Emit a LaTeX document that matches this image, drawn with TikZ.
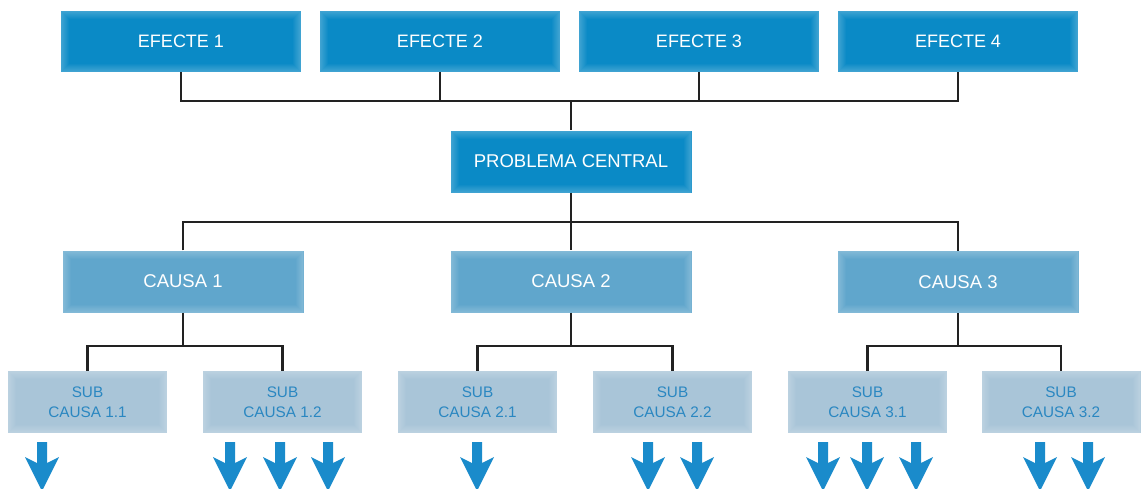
\documentclass[tikz,border=0pt]{standalone}
\usepackage{fontspec}
\setmainfont{Liberation Sans}
\usetikzlibrary{calc}

\definecolor{effblue}{HTML}{0A8AC6}
\definecolor{causeblue}{HTML}{60A6CC}
\definecolor{subfill}{HTML}{A9C5D8}
\definecolor{subtext}{HTML}{2A87C1}
\definecolor{arrowblue}{HTML}{1A8BCB}
\definecolor{linegray}{HTML}{222222}

\tikzset{
  % soft lighter rim fading inward
  softedge/.style={
    path picture={
      \foreach \i in {0,...,7}{
        \pgfmathsetmacro{\op}{0.22-0.027*\i}
        \draw[white, opacity=\op, line width=1pt]
          ([shift={(\i pt+0.5pt,\i pt+0.5pt)}]path picture bounding box.south west)
          rectangle
          ([shift={(-\i pt-0.5pt,-\i pt-0.5pt)}]path picture bounding box.north east);
      }
    }
  },
  effbox/.style={rectangle, fill=effblue, softedge, text=white,
    minimum width=240pt, minimum height=61pt, inner sep=0pt,
    font=\fontsize{18}{20}\selectfont},
  causebox/.style={rectangle, fill=causeblue, softedge, text=white,
    minimum width=241pt, minimum height=62pt, inner sep=0pt,
    font=\fontsize{18.5}{20}\selectfont},
  subbox/.style={rectangle, fill=subfill, softedge, text=subtext,
    minimum width=159pt, minimum height=62pt, inner sep=0pt, align=center,
    font=\fontsize{15.3}{20}\selectfont},
  link/.style={draw=linegray, line width=2.2pt},
  downarrow/.style={fill=arrowblue, draw=none},
}

\begin{document}
\begin{tikzpicture}[x=1pt,y=-1pt]
\useasboundingbox (0,0) rectangle (1141,488);
\clip (0,0) rectangle (1141,488);

% effects
\node[effbox] (e1) at (181,41.5) {EFECTE 1};
\node[effbox] (e2) at (440,41.5) {EFECTE 2};
\node[effbox] (e3) at (699,41.5) {EFECTE 3};
\node[effbox] (e4) at (958,41.5) {EFECTE 4};

% central problem
\node[effbox, minimum width=241pt, minimum height=62pt,
      font=\fontsize{18.5}{20}\selectfont] (pc) at (571,161.5) {PROBLEMA CENTRAL};

% causes
\node[causebox] (c1) at (183,281.5) {CAUSA 1};
\node[causebox] (c2) at (571,281.5) {CAUSA 2};
\node[causebox] (c3) at (958,282) {CAUSA 3};

% sub-causes
\node[subbox] (s11) at (87.5,402)  {SUB\\CAUSA 1.1};
\node[subbox] (s12) at (282.5,402) {SUB\\CAUSA 1.2};
\node[subbox] (s21) at (477.5,402) {SUB\\CAUSA 2.1};
\node[subbox] (s22) at (672.5,402) {SUB\\CAUSA 2.2};
\node[subbox] (s31) at (867.5,402) {SUB\\CAUSA 3.1};
\node[subbox] (s32) at (1061,402)  {SUB\\CAUSA 3.2};

% bus lines
\coordinate (b1) at (571,101);
\coordinate (b2) at (571,222);
\coordinate (b31) at (183,346);
\coordinate (b32) at (571,346);
\coordinate (b33) at (958,346);

% effects -> problem
\draw[link] (e1.south) |- (b1) -| (e4.south);
\draw[link] (e2.south) -- (e2.south |- b1);
\draw[link] (e3.south) -- (e3.south |- b1);
\draw[link] (b1) -- (pc.north);

% problem -> causes
\draw[link] (c1.north) |- (b2) -| (c3.north);
\draw[link] (pc.south) -- (c2.north);

% causes -> sub-causes
\draw[link] (s11.north) |- (b31) -| (s12.north);
\draw[link] (c1.south) -- (b31);
\draw[link] (s21.north) |- (b32) -| (s22.north);
\draw[link] (c2.south) -- (b32);
\draw[link] (s31.north) |- (b33) -| (s32.north);
\draw[link] (c3.south) -- (b33);

% downward arrows below the sub-causes
\foreach \x in {42,230,280,328,477,648,697,823,867,916,1040,1088}{
  \fill[downarrow] (\x-5,442) -- (\x+5,442) -- (\x+5,463) -- (\x+17,457)
    -- (\x,491) -- (\x-17,457) -- (\x-5,463) -- cycle;
}
\end{tikzpicture}
\end{document}
